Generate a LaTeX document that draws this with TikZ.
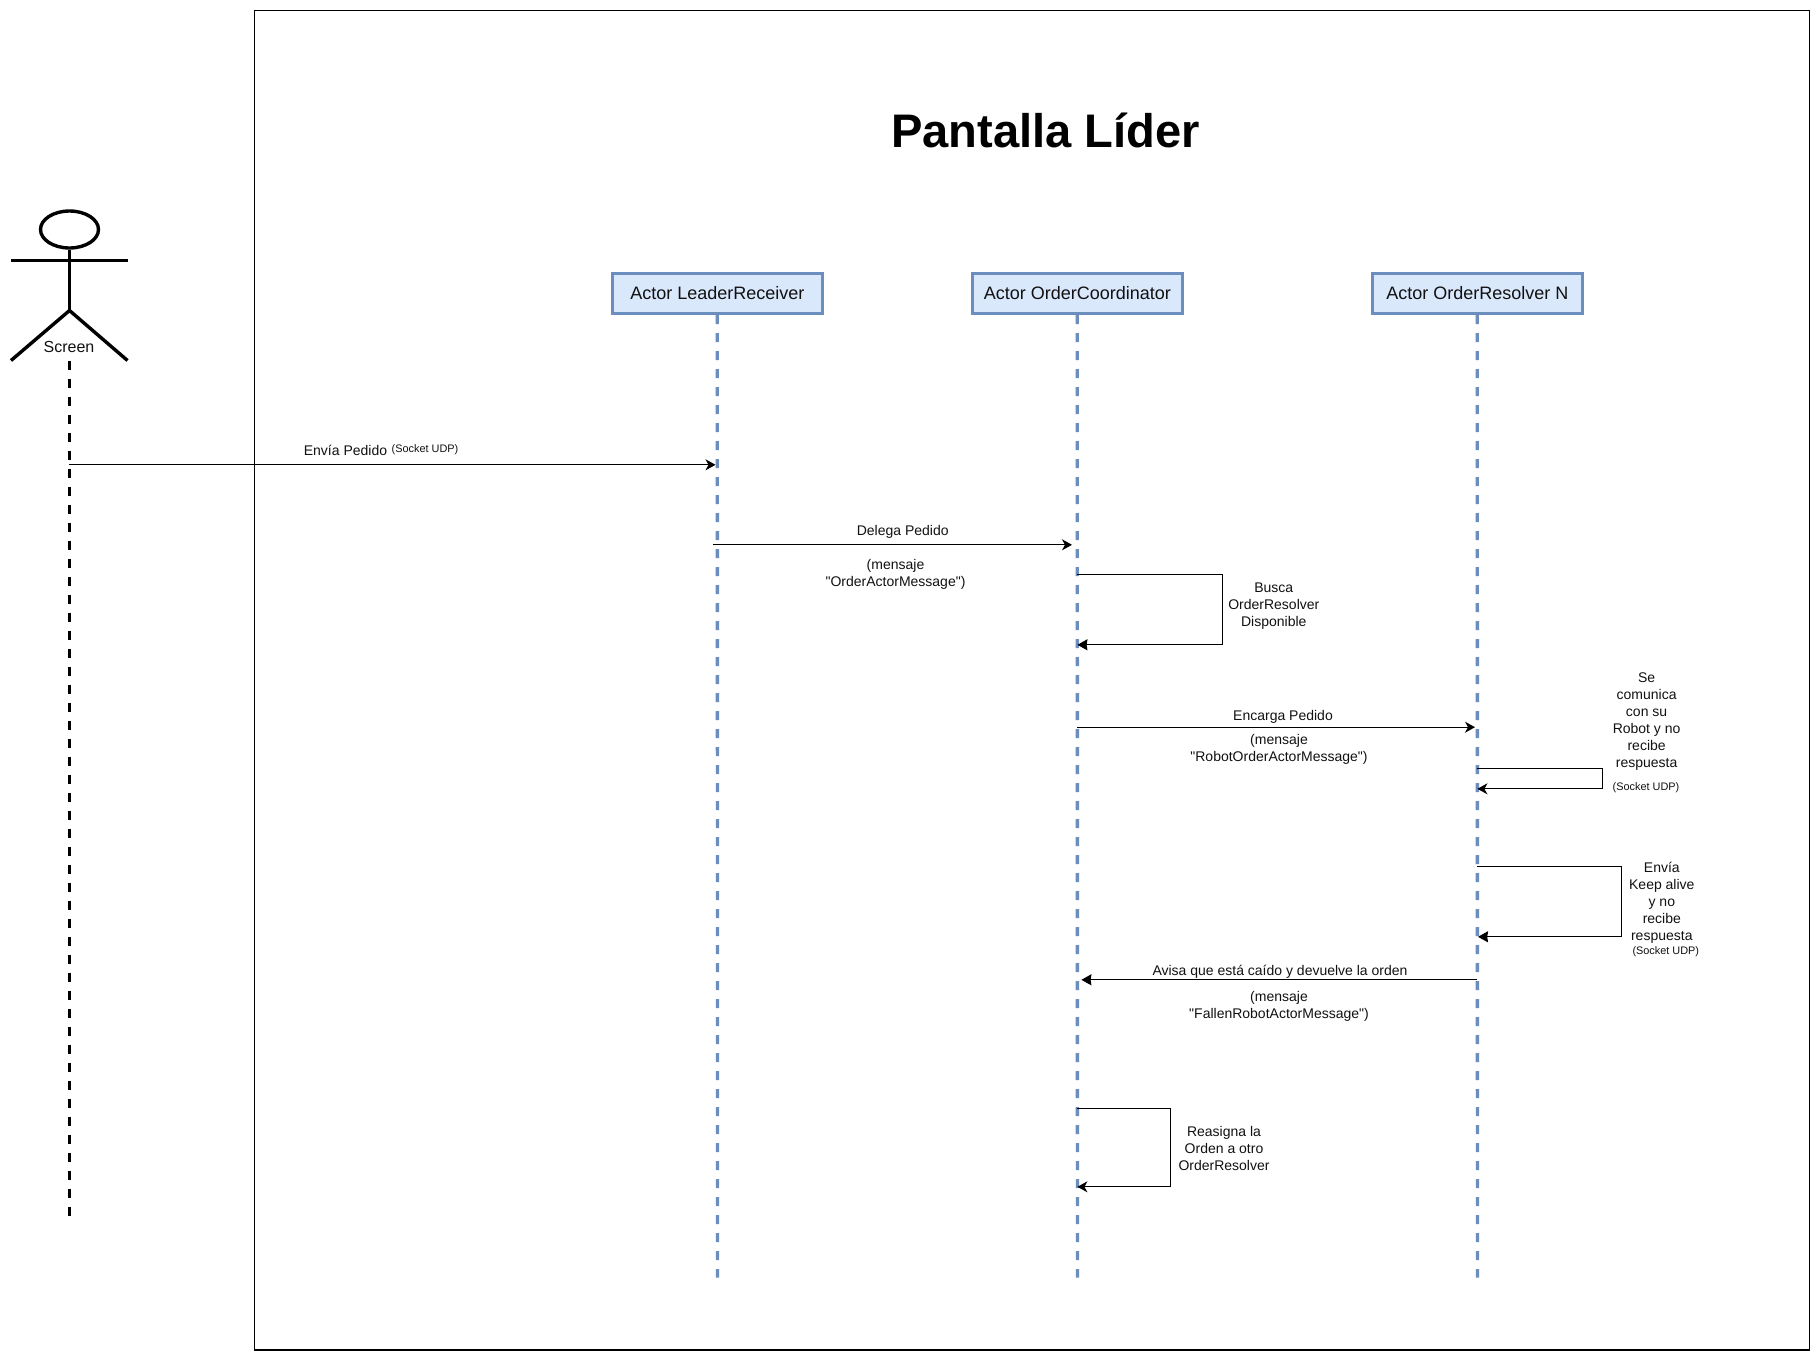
\documentclass[tikz,border=0pt]{standalone}
\usepackage{fontspec}
\newfontfamily\labelfont{Liberation Sans}
\usetikzlibrary{arrows.meta,shapes.geometric}
\definecolor{boxfill}{HTML}{DAE8FC}
\definecolor{boxline}{HTML}{6C8EBF}
\definecolor{ink}{HTML}{111111}
\tikzset{
  actorbox/.style={draw=boxline,fill=boxfill,line width=3pt,minimum width=210pt,minimum height=40pt,inner sep=0pt,text=ink,font=\labelfont\fontsize{18}{21}\selectfont},
  lifeline/.style={draw=boxline,line width=3.3pt,dash pattern=on 9pt off 9pt},
  screenline/.style={draw=black,line width=3.3pt,dash pattern=on 9pt off 9pt},
  stick/.style={draw=black,line width=3.4pt},
  msg/.style={draw=black,line width=1.2pt,-{Stealth[length=10pt,width=11pt,inset=3pt]}},
  blockmsg/.style={draw=black,line width=1.2pt,-{Stealth[length=10pt,width=11pt,inset=0.8pt]}},
  lbl/.style={align=center,inner sep=0pt,text=ink,font=\labelfont\fontsize{14}{17}\selectfont},
  tiny/.style={align=center,inner sep=0pt,text=ink,font=\labelfont\fontsize{10.9}{13}\selectfont},
}
\begin{document}
\begin{tikzpicture}[x=1pt,y=-1pt]
\useasboundingbox (0,0) rectangle (1820,1361);
\begin{scope}[shift={(0,0.5)}]
% frame
\node[draw=black,line width=1.2pt,minimum width=1555.2pt,minimum height=1339.4pt,inner sep=0pt] (frame) at (1032.1,679.7) {};
\node[anchor=base,inner sep=0pt,text=black,font=\labelfont\fontsize{47.1}{50}\selectfont\bfseries] (title) at (1045.6,147.4) {Pantalla Líder};
% actor
\node[draw=black,line width=3.4pt,ellipse,minimum width=58pt,minimum height=37pt,inner sep=0pt] (head) at (69.5,229) {};
\coordinate (hip) at (69.5,310);
\coordinate (armL) at (11,260);
\coordinate (armR) at (127.5,260);
\coordinate (legL) at (11,360);
\coordinate (legR) at (127.5,360);
\coordinate (screenTop) at (69.5,360);
\coordinate (screenEnd) at (69.5,1216);
\draw[stick] (head.south) -- (hip);
\draw[stick] (armL) -- (armR);
\draw[stick] (legL) -- (hip) -- (legR);
\node[inner sep=0pt,text=ink,font=\labelfont\fontsize{16}{19}\selectfont] (screen) at (69,346.7) {Screen};
\draw[screenline] (screenTop) -- (screenEnd);
% actor boxes
\node[actorbox] (recv) at (717.3,293) {Actor LeaderReceiver};
\node[actorbox] (coord) at (1077.3,293) {Actor OrderCoordinator};
\node[actorbox] (res) at (1477.3,293) {Actor OrderResolver N};
\coordinate (recvEnd) at (717.5,1277);
\coordinate (coordEnd) at (1077.4,1277);
\coordinate (resEnd) at (1477.4,1277);
\draw[lifeline] (recv.south) -- (recvEnd);
\draw[lifeline] (coord.south) -- (coordEnd);
\draw[lifeline] (res.south) -- (resEnd);
% message 1
\coordinate (m1a) at (69,464.3);
\coordinate (m1b) at (715.5,464.3);
\draw[msg] (m1a) -- (m1b);
\node[lbl] (m1t) at (345.5,449.6) {Envía Pedido};
\node[tiny] (m1s) at (425,448.7) {(Socket UDP)};
% message 2
\coordinate (m2a) at (712.5,544.3);
\coordinate (m2b) at (1072,544.3);
\draw[msg] (m2a) -- (m2b);
\node[lbl] (m2t) at (902.7,531.8) {Delega Pedido};
\node[lbl] (m2m) at (895.5,574.3) {(mensaje\\"OrderActorMessage")};
% self 1
\coordinate (s1a) at (1077.4,574.3);
\coordinate (s1b) at (1222.5,574.3);
\coordinate (s1c) at (1222.5,644.3);
\coordinate (s1d) at (1077.4,644.3);
\draw[blockmsg] (s1a) -- (s1b) -- (s1c) -- (s1d);
\node[lbl] (s1t) at (1273.8,605.8) {Busca\\OrderResolver\\Disponible};
% message 3
\coordinate (m3a) at (1077.4,726.7);
\coordinate (m3b) at (1475,726.7);
\draw[msg] (m3a) -- (m3b);
\node[lbl] (m3t) at (1283,716.8) {Encarga Pedido};
\node[lbl] (m3m) at (1279,749.3) {(mensaje\\"RobotOrderActorMessage")};
% self 2
\coordinate (s2a) at (1476.5,768.3);
\coordinate (s2b) at (1602.4,768.3);
\coordinate (s2c) at (1602.4,788.3);
\coordinate (s2d) at (1477.4,788.3);
\draw[msg] (s2a) -- (s2b) -- (s2c) -- (s2d);
\node[lbl] (s2t) at (1646.6,720.8) {Se\\comunica\\con su\\Robot y no\\recibe\\respuesta};
\node[tiny] (s2s) at (1646,787.3) {(Socket UDP)};
% self 3
\coordinate (s3a) at (1476.5,866.3);
\coordinate (s3b) at (1621.6,866.3);
\coordinate (s3c) at (1621.6,936.3);
\coordinate (s3d) at (1478,936.3);
\draw[blockmsg] (s3a) -- (s3b) -- (s3c) -- (s3d);
\node[lbl] (s3t) at (1661.8,901.8) {Envía\\Keep alive\\y no\\recibe\\respuesta};
\node[tiny] (s3s) at (1665.8,951.5) {(Socket UDP)};
% message 4
\coordinate (m4a) at (1477.4,979.3);
\coordinate (m4b) at (1081.4,979.3);
\draw[blockmsg] (m4a) -- (m4b);
\node[lbl] (m4t) at (1280,970.8) {Avisa que está caído y devuelve la orden};
\node[lbl] (m4m) at (1279,1006.3) {(mensaje\\"FallenRobotActorMessage")};
% self 4
\coordinate (s4a) at (1077.4,1108.3);
\coordinate (s4b) at (1170.7,1108.3);
\coordinate (s4c) at (1170.7,1186.3);
\coordinate (s4d) at (1077.4,1186.3);
\draw[msg] (s4a) -- (s4b) -- (s4c) -- (s4d);
\node[lbl] (s4t) at (1224,1147.8) {Reasigna la\\Orden a otro\\OrderResolver};
\end{scope}
\end{tikzpicture}
\end{document}
